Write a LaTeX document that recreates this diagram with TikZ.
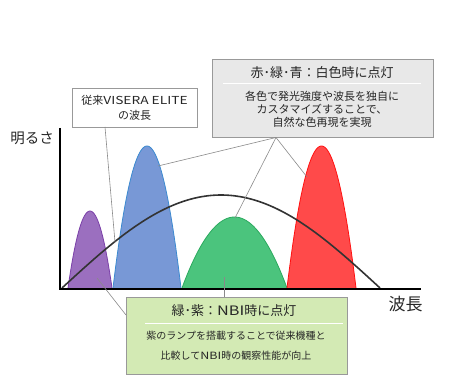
\documentclass[tikz,border=0pt]{standalone}
\usepackage{fontspec}
\setmainfont{Noto Sans CJK JP}
\newfontfamily\widelat[FakeStretch=1.25]{Noto Sans CJK JP}
\definecolor{purpleF}{HTML}{9B6FBF}
\definecolor{purpleE}{HTML}{7A3FA8}
\definecolor{blueF}{HTML}{7898D6}
\definecolor{blueE}{HTML}{3C8AD0}
\definecolor{greenF}{HTML}{4BC47D}
\definecolor{greenE}{HTML}{2BAA5E}
\definecolor{redF}{HTML}{FF4A4A}
\definecolor{redE}{HTML}{FF1010}
\definecolor{greyBox}{HTML}{E8E8E8}
\definecolor{greenBox}{HTML}{D3EAB4}
\definecolor{boxEdge}{HTML}{999999}
\definecolor{curveC}{HTML}{333333}
\definecolor{connC}{HTML}{8A8A8A}
\begin{document}
\begin{tikzpicture}[x=1pt,y=-1pt,
  peak/.style={line width=0.8pt},
  conn/.style={draw=connC, line width=0.6pt},
  infobox/.style={draw=boxEdge, line width=0.8pt, inner sep=0pt},
  txt/.style={inner sep=0pt, text=black!85, align=center}]
\useasboundingbox (0,0) rectangle (463,387);
% peaks
\filldraw[peak, fill=purpleF, draw=purpleE] plot[domain=68:112, samples=60] (\x, {288-77*(1-((\x-90)/22)^2)});
\filldraw[peak, fill=blueF, draw=blueE] plot[domain=113:181, samples=60] (\x, {288-142*(1-((\x-147)/34)^2)});
\filldraw[peak, fill=greenF, draw=greenE] plot[domain=182:287, samples=60] (\x, {288-71*(1-((\x-234.5)/52.5)^2)});
\filldraw[peak, fill=redF, draw=redE] plot[domain=287:356, samples=60] (\x, {288-142*(1-((\x-321.5)/34.5)^2)});
% black curve
\draw[line width=1.6pt, draw=curveC] plot[domain=62:380, samples=90] (\x, {288-93*sin((\x-62)*0.566038)});
% axes
\draw[line width=2.6pt] (60,128) -- (60,289) -- (421,289);
\node[txt, font=\fontsize{14.5}{16}\selectfont] (ylab) at (32,138) {明るさ};
\node[txt, font=\fontsize{17}{19}\selectfont] (xlab) at (405.5,304) {波長};
% grey box
\node[infobox, fill=greyBox, minimum width=221pt, minimum height=78pt] (rgb) at (322.5,98) {};
\node[txt, font=\fontsize{13}{15}\selectfont] (rgbtitle) at (322,73) {赤･緑･青：白色時に点灯};
\draw[white, line width=0.8pt] (223,83) -- (421,83);
\node[txt, font=\fontsize{11}{13}\selectfont] (rgbbody) at (322,109) {各色で発光強度や波長を独自に\\カスタマイズすることで、\\自然な色再現を実現};
% white box
\node[infobox, fill=white, minimum width=125pt, minimum height=39pt] (old) at (134.5,107.5) {};
\node[txt, font=\fontsize{11}{15}\selectfont] (oldtxt) at (134.5,107.5) {従来{\widelat VISERA ELITE}\\の波長};
% green box
\node[infobox, fill=greenBox, minimum width=221pt, minimum height=77pt] (nbi) at (236.5,335.5) {};
\node[txt, font=\fontsize{13}{15}\selectfont] (nbititle) at (234,311) {緑･紫：{\widelat NBI}時に点灯};
\draw[white, line width=0.8pt] (145,323) -- (343,323);
\node[txt, font=\fontsize{10}{20}\selectfont] (nbibody) at (236,346) {紫のランプを搭載することで従来機種と\\比較して{\widelat NBI}時の観察性能が向上};
% connector points
\coordinate (rgbtip) at (276,137.5);
\coordinate (bluept) at (158,166);
\coordinate (redpt) at (307,177);
\coordinate (greenpt) at (235,218);
\coordinate (oldtip) at (105,127);
\coordinate (oldpt) at (115,242);
\coordinate (nbitop) at (224,297);
\coordinate (greenin) at (224,277);
\coordinate (nbileft) at (126,315);
\coordinate (purplein) at (97,278);
\draw[conn] (rgbtip) -- (bluept);
\draw[conn] (rgbtip) -- (redpt);
\draw[conn] (rgbtip) -- (greenpt);
\draw[conn] (oldtip) -- (oldpt);
\draw[conn] (nbitop) -- (greenin);
\draw[conn] (nbileft) -- (purplein);
\end{tikzpicture}
\end{document}
